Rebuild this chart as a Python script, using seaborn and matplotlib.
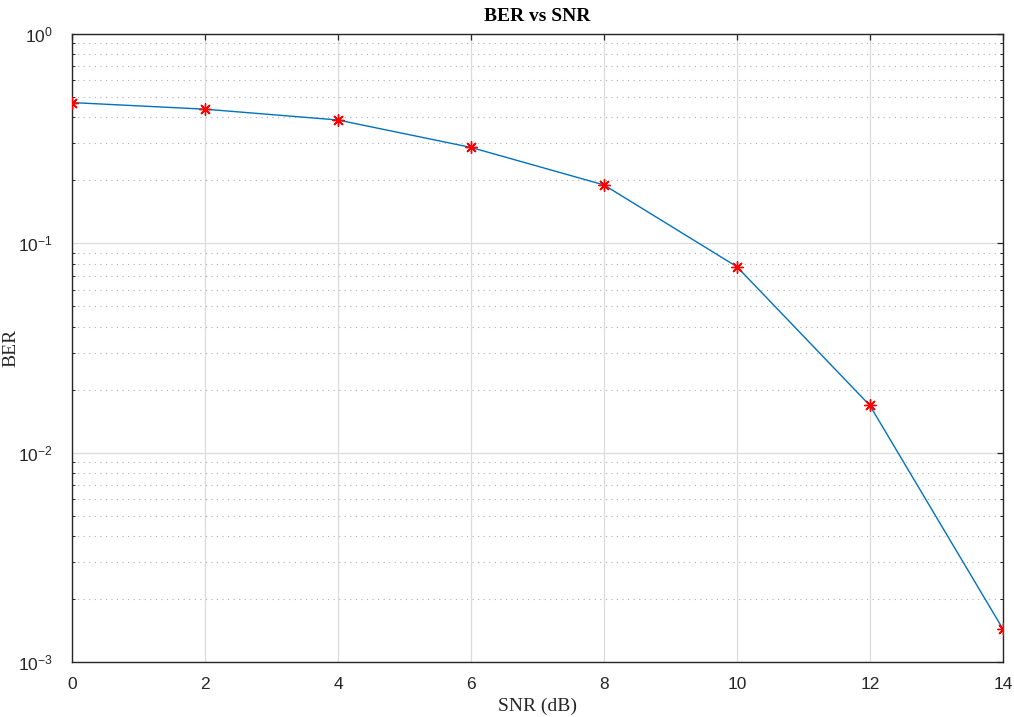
import numpy as np
import pandas as pd
import matplotlib
matplotlib.use("Agg")
import matplotlib.pyplot as plt
import seaborn as sns
from matplotlib.ticker import LogLocator, FixedLocator

snr_db = [0, 2, 4, 6, 8, 10, 12, 14]
ber = [0.47, 0.437, 0.388, 0.287, 0.19, 0.0773, 0.0168, 0.00144]
x_ticks = [0, 2, 4, 6, 8, 10, 12, 14]

sns.set_theme(style="white")
plt.rcParams['font.family'] = ['Liberation Sans', 'DejaVu Sans']
plt.rcParams['mathtext.fontset'] = 'custom'
plt.rcParams['mathtext.rm'] = 'Liberation Sans'
plt.rcParams['mathtext.it'] = 'Liberation Sans:italic'
plt.rcParams['mathtext.bf'] = 'Liberation Sans:bold'
plt.rcParams['axes.unicode_minus'] = False

df = pd.DataFrame({"SNR": snr_db, "BER": ber})

fig = plt.figure(figsize=(10.14, 7.17), dpi=100)
ax = fig.add_axes([0.071, 0.0767, 0.918, 0.876])

sns.lineplot(data=df, x="SNR", y="BER", ax=ax, color="#0072BD", linewidth=1.0, zorder=3)
sns.scatterplot(data=df, x="SNR", y="BER", ax=ax, marker=(8, 2, 0), s=70,
                color="red", edgecolor="red", linewidth=1.0, zorder=4)

ax.set_yscale("log")
ax.set_xlim(0, 14)
ax.set_ylim(1e-3, 1)
ax.xaxis.set_major_locator(FixedLocator(x_ticks))
ax.yaxis.set_major_locator(LogLocator(base=10, numticks=10))
ax.yaxis.set_minor_locator(LogLocator(base=10, subs=np.arange(2, 10), numticks=20))

ax.grid(True, which="major", color="#dcdcdc", linewidth=0.9, linestyle="-")
ax.grid(True, which="minor", axis="y", color="#b0b0b0", linewidth=0.8, linestyle=(0, (1, 4)))
ax.set_axisbelow(True)

for sp in ax.spines.values():
    sp.set_color("#262626")
    sp.set_linewidth(1.0)
    sp.set_visible(True)

ax.tick_params(which="major", direction="in", length=4, width=0.9, color="#262626",
               top=True, right=True, labelsize=12.5, labelcolor="#262626")
ax.tick_params(axis="x", which="major", pad=11)
ax.tick_params(axis="y", which="major", pad=14)
ax.tick_params(which="minor", direction="in", length=2.5, width=0.7, color="#262626",
               left=True, right=True, top=False, bottom=False)
ax.tick_params(axis="x", which="minor", bottom=False, top=False)

ax.set_title("BER vs SNR", fontfamily="Liberation Serif", fontweight="bold", fontsize=14,
             color="black", pad=9)
ax.set_xlabel("SNR (dB)", fontfamily="Liberation Serif", fontsize=14, color="#262626", labelpad=4)
ax.set_ylabel("BER", fontfamily="Liberation Serif", fontsize=14, color="#262626")
ax.yaxis.set_label_coords(-0.056, 0.5)

fig.savefig("out.png", dpi=100)
